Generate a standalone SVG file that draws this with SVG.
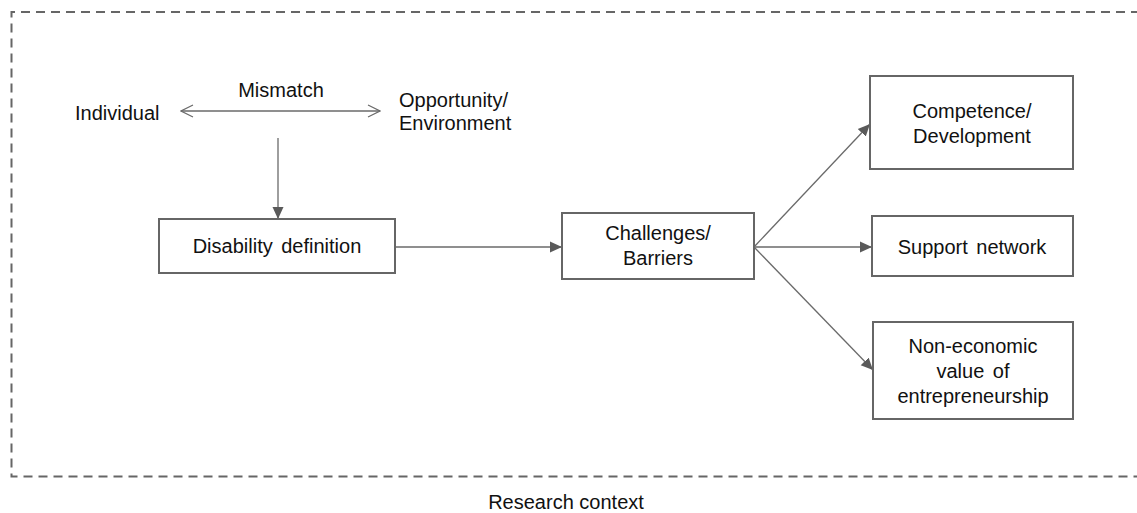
<svg xmlns="http://www.w3.org/2000/svg" width="1137" height="513" viewBox="0 0 1137 513">
  <style>
    text { font-family: "Liberation Sans", Arial, sans-serif; font-size: 20px; fill: #111; }
    .c { text-anchor: middle; }
    .box { fill: #fff; stroke: #666; stroke-width: 2; }
    .conn { stroke: #6a6a6a; stroke-width: 1.3; fill: none; }
    .frame { stroke: #666; stroke-width: 2; fill: none; stroke-dasharray: 9 6; }
  </style>
  <defs>
    <marker id="arr" viewBox="0 0 12 12" refX="12" refY="6" markerWidth="12" markerHeight="12" markerUnits="userSpaceOnUse" orient="auto">
      <path d="M0,0.5 L12,6 L0,11.5 z" fill="#5a5a5a"/>
    </marker>
    <marker id="open" viewBox="0 0 14 14" refX="13" refY="7" markerWidth="14" markerHeight="14" markerUnits="userSpaceOnUse" orient="auto-start-reverse">
      <path d="M1,1 L13,7 L1,13" fill="none" stroke="#6a6a6a" stroke-width="1.2"/>
    </marker>
  </defs>

  <g id="research-context">
    <path class="frame" d="M1140,12 L11.5,12 L11.5,476.5 L1140,476.5"/>
    <text class="c" x="566" y="509">Research context</text>
  </g>

  <g id="connectors">
    <line class="conn" x1="181" y1="111" x2="380" y2="111" marker-start="url(#open)" marker-end="url(#open)"/>
    <line class="conn" x1="278" y1="138" x2="278" y2="219" marker-end="url(#arr)"/>
    <line class="conn" x1="395" y1="247" x2="562" y2="247" marker-end="url(#arr)"/>
    <line class="conn" x1="754" y1="247" x2="870" y2="124" marker-end="url(#arr)"/>
    <line class="conn" x1="754" y1="247" x2="872" y2="247" marker-end="url(#arr)"/>
    <line class="conn" x1="754" y1="247" x2="873" y2="370" marker-end="url(#arr)"/>
  </g>

  <g id="individual">
    <text x="75" y="120">Individual</text>
  </g>
  <g id="mismatch">
    <text class="c" x="281" y="97">Mismatch</text>
  </g>
  <g id="opportunity">
    <text x="399" y="107">Opportunity/</text>
    <text x="399" y="130">Environment</text>
  </g>

  <g id="disability-definition">
    <rect class="box" x="159" y="219" width="236" height="54"/>
    <text class="c" x="277" y="253" word-spacing="3">Disability definition</text>
  </g>

  <g id="challenges">
    <rect class="box" x="562" y="213" width="192" height="66"/>
    <text class="c" x="658" y="240">Challenges/</text>
    <text class="c" x="658" y="265">Barriers</text>
  </g>

  <g id="competence">
    <rect class="box" x="870" y="76" width="203" height="93"/>
    <text class="c" x="972" y="118">Competence/</text>
    <text class="c" x="972" y="143">Development</text>
  </g>

  <g id="support-network">
    <rect class="box" x="872" y="216" width="201" height="60"/>
    <text class="c" x="972" y="254" word-spacing="3">Support network</text>
  </g>

  <g id="non-economic">
    <rect class="box" x="873" y="322" width="200" height="97"/>
    <text class="c" x="973" y="353">Non-economic</text>
    <text class="c" x="973" y="378" word-spacing="3">value of</text>
    <text class="c" x="973" y="403">entrepreneurship</text>
  </g>
</svg>
